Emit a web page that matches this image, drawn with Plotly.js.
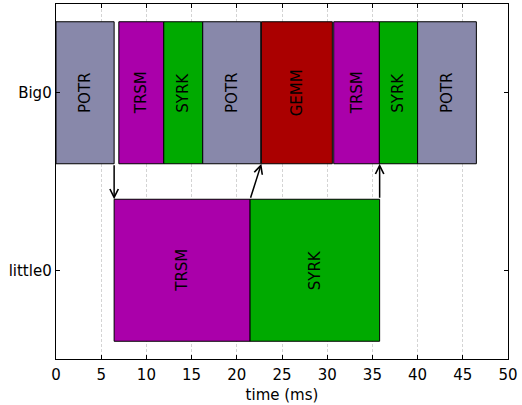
<!DOCTYPE html>
<html>
<head>
<meta charset="utf-8">
<script src="https://cdn.plot.ly/plotly-3.0.1.min.js"></script>
<style>html,body{margin:0;padding:0;background:#fff;}#chart{width:522px;height:405px;}</style>
</head>
<body>
<div id="chart"></div>
<script>
// Task schedule (ms)
const lanes   = ['Big0','Big0','Big0','Big0','Big0','Big0','Big0','Big0','little0','little0'];
const tasks   = ['POTR','TRSM','SYRK','POTR','GEMM','TRSM','SYRK','POTR','TRSM','SYRK'];
const starts  = [0.0, 6.95, 11.92, 16.23, 22.72, 30.72, 35.77, 40.0, 6.43, 21.47];
const ends    = [6.43, 11.92, 16.23, 22.65, 30.57, 35.77, 40.0, 46.5, 21.47, 35.8];
const laneOrder = ['little0','Big0'];
const xTicks  = [0,5,10,15,20,25,30,35,40,45,50];
// Dependency arrows: tail (x, lane) -> head (x, lane)
const arrowTailX    = [6.43, 21.47, 35.8];
const arrowTailLane = ['Big0','little0','little0'];
const arrowHeadX    = [6.43, 22.72, 35.8];
const arrowHeadLane = ['little0','Big0','Big0'];

const taskColors = {POTR:'#8888aa', TRSM:'#aa00aa', SYRK:'#00aa00', GEMM:'#aa0000'};
const barW = 0.8;

const trace = {
  type:'bar', orientation:'h',
  y: lanes,
  base: starts,
  x: ends.map((e,i)=>e-starts[i]),
  width: lanes.map(()=>barW),
  text: tasks,
  textposition:'inside',
  insidetextanchor:'middle',
  textangle:-90,
  constraintext:'none',
  textfont:{family:'DejaVu Sans', size:15, color:'#000'},
  marker:{color: tasks.map(t=>taskColors[t]), line:{color:'#000', width:1}},
  hoverinfo:'skip'
};

function laneIdx(l){ return laneOrder.indexOf(l); }
const annotations = arrowTailX.map((tx,i)=>{
  const tl = laneIdx(arrowTailLane[i]), hl = laneIdx(arrowHeadLane[i]);
  const dir = hl > tl ? 1 : -1;
  return {
    x: arrowHeadX[i], y: hl - dir*barW/2,
    ax: tx, ay: tl + dir*barW/2,
    xref:'x', yref:'y', axref:'x', ayref:'y',
    text:'', showarrow:true, arrowhead:5, arrowsize:1.1, arrowwidth:1.5,
    arrowcolor:'#000', standoff:0, startstandoff:0
  };
});

const layout = {
  width:522, height:405,
  margin:{l:56, r:14, t:4, b:46},
  paper_bgcolor:'#fff', plot_bgcolor:'#fff',
  showlegend:false,
  barmode:'overlay',
  font:{family:'DejaVu Sans', size:15, color:'#000'},
  xaxis:{
    range:[0,50], tickvals:xTicks, ticktext:xTicks.map(String),
    showgrid:true, gridcolor:'#d4d4d4', griddash:'3px,2px', gridwidth:1,
    zeroline:false, showline:true, linecolor:'#000', linewidth:1.3, mirror:'ticks',
    ticks:'inside', ticklen:4, tickcolor:'#000', ticklabelstandoff:2,
    title:{text:'time (ms)', font:{size:15}, standoff:6}
  },
  yaxis:{
    type:'category', categoryorder:'array', categoryarray:laneOrder,
    range:[-0.5,1.5], showgrid:false, zeroline:false,
    showline:true, linecolor:'#000', linewidth:1.3, mirror:'ticks',
    ticks:'inside', ticklen:4, tickcolor:'#000'
  },
  annotations: annotations
};

Plotly.newPlot('chart',[trace],layout,{displayModeBar:false, staticPlot:true});
</script>
</body>
</html>
